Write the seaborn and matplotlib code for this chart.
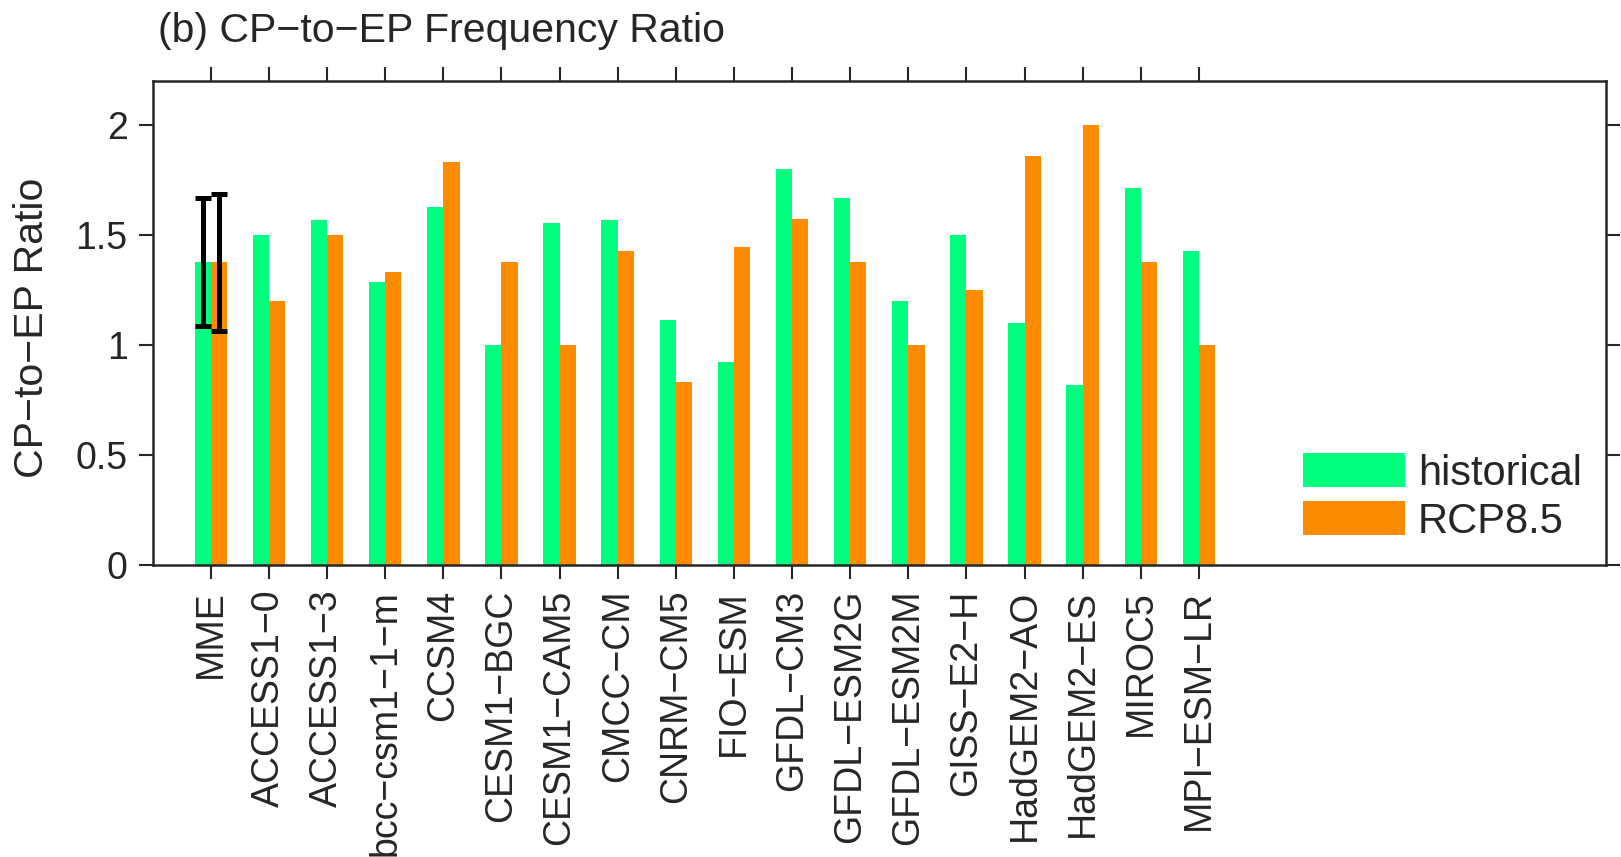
import pandas as pd
import matplotlib.pyplot as plt
import seaborn as sns

# Data
models = ["MME", "ACCESS1−0", "ACCESS1−3", "bcc−csm1−1−m", "CCSM4", "CESM1−BGC",
          "CESM1−CAM5", "CMCC−CM", "CNRM−CM5", "FIO−ESM", "GFDL−CM3", "GFDL−ESM2G",
          "GFDL−ESM2M", "GISS−E2−H", "HadGEM2−AO", "HadGEM2−ES", "MIROC5", "MPI−ESM−LR"]
historical = [1.375, 1.5, 1.57, 1.286, 1.625, 1.0, 1.556, 1.57, 1.111, 0.923,
              1.8, 1.667, 1.2, 1.5, 1.1, 0.818, 1.714, 1.429]
rcp85 = [1.375, 1.2, 1.5, 1.333, 1.833, 1.375, 1.0, 1.429, 0.833, 1.444,
         1.571, 1.375, 1.0, 1.25, 1.857, 2.0, 1.375, 1.0]
scenarios = ["historical", "RCP8.5"]
colors = ["#00FF7F", "#FF8C00"]

# MME spread (low / high ends of the error bars)
mme_low = [1.086, 1.064]
mme_high = [1.67, 1.688]

sns.set_style("ticks")
plt.rcParams["font.family"] = ["Liberation Sans", "DejaVu Sans"]
plt.rcParams["font.size"] = 27

df = pd.DataFrame({
    "model": models * 2,
    "ratio": historical + rcp85,
    "scenario": ["historical"] * len(models) + ["RCP8.5"] * len(models),
})

fig = plt.figure(figsize=(16.21, 8.57), dpi=100)
ax = fig.add_axes([0.0942, 0.341, 0.8964, 0.5645])

sns.barplot(data=df, x="model", y="ratio", hue="scenario", hue_order=scenarios,
            palette=colors, width=0.56, saturation=1, errorbar=None,
            linewidth=0, ax=ax)

# error bars on the MME bars
offsets = [-0.14, 0.14]
means = [historical[0], rcp85[0]]
for off, m, lo, hi in zip(offsets, means, mme_low, mme_high):
    ax.errorbar(0 + off, m, yerr=[[m - lo], [hi - m]], fmt="none", ecolor="black",
                elinewidth=3.6, capsize=6, capthick=3.6)

ax.set_xlim(-1, 24)
ax.set_ylim(0, 2.2)
ax.set_yticks([0, 0.5, 1, 1.5, 2])
ax.set_yticklabels(["0", "0.5", "1", "1.5", "2"])
ax.set_xticks(range(len(models)))
ax.set_xticklabels(models, rotation=90)
ax.set_xlabel("")
ax.set_ylabel("CP−to−EP Ratio", fontsize=29.5)
ax.yaxis.set_label_coords(-0.0703, 0.49)

for s in ax.spines.values():
    s.set_visible(True)
    s.set_linewidth(1.8)
ax.tick_params(axis="both", which="both", direction="out", length=10, width=1.5,
               top=True, right=True, labelsize=27, pad=8)

leg = ax.legend(loc="lower left", bbox_to_anchor=(0.7915, 0.0475), frameon=False,
                borderpad=0, borderaxespad=0, handlelength=2.46, handleheight=0.88,
                labelspacing=0.18, handletextpad=0.3, fontsize=30)

fig.text(158 / 1621, 1 - 41.7 / 857, "(b) CP−to−EP Frequency Ratio", fontsize=29.5,
         ha="left", va="baseline")

fig.savefig("out.png", dpi=100)
